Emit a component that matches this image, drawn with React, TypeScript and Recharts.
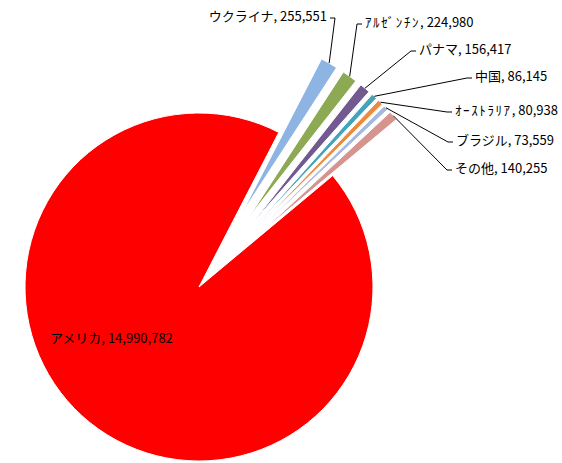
import { PieChart, Pie, Cell } from "recharts";

const countries = ["ウクライナ", "ｱﾙｾﾞﾝﾁﾝ", "パナマ", "中国", "ｵｰｽﾄﾗﾘｱ", "ブラジル", "その他", "アメリカ"];
const tonnes = [255551, 224980, 156417, 86145, 80938, 73559, 140255, 14990782];
const colors = ["#8EB4E3", "#8DA953", "#725990", "#45A3BA", "#EB8B3F", "#A5B9DD", "#D6948F", "#FF0000"];
const exploded = [true, true, true, true, true, true, true, false];

// where each leader line bends, and which side the text sits on (0 = plain text inside)
const labelSpots = [
  { x: 335, y: 18, side: -1 },
  { x: 357, y: 24, side: 1 },
  { x: 411, y: 51, side: 1 },
  { x: 467, y: 78, side: 1 },
  { x: 447, y: 112, side: 1 },
  { x: 448, y: 142, side: 1 },
  { x: 447, y: 170, side: 1 },
  { x: 50, y: 337, side: 0 },
];

const CX = 199;
const CY = 287;
const R = 174;
const EXPLODE = 85;
const START = 27.3; // degrees clockwise from 12 o'clock

const data = countries.map((name, i) => ({ name, value: tonnes[i] }));
const total = tonnes.reduce((a, b) => a + b, 0);

let acc = 0;
const midCompass = tonnes.map((v) => {
  const m = START + ((acc + v / 2) / total) * 360;
  acc += v;
  return m;
});

const font = "'Noto Sans CJK JP', 'Noto Sans', sans-serif";

// half-width kana come out narrower than in the original, so space them a bit
const labelText = (i: number) => {
  const name = countries[i];
  const halfWidth = /[\uFF61-\uFF9F]/.test(name);
  return (
    <>
      <tspan letterSpacing={halfWidth ? 1.6 : 0}>{name}</tspan>
      <tspan>{`, ${tonnes[i].toLocaleString("en-US")}`}</tspan>
    </>
  );
};

const renderLabel = (p: any) => {
  const i = p.index;
  const spot = labelSpots[i];
  if (spot.side === 0) {
    return (
      <text x={spot.x} y={spot.y} dominantBaseline="central" fontFamily={font} fontSize={13} fill="#000">
        {labelText(i)}
      </text>
    );
  }
  const rad = (p.midAngle * Math.PI) / 180;
  const dist = EXPLODE + p.outerRadius;
  const tx = p.cx + dist * Math.cos(rad);
  const ty = p.cy - dist * Math.sin(rad);
  const hx = spot.x + spot.side * 5;
  return (
    <g>
      <polyline
        points={`${tx},${ty} ${spot.x},${spot.y} ${hx},${spot.y}`}
        fill="none"
        stroke="#000"
        strokeWidth={1}
      />
      <text
        x={hx + spot.side * 3}
        y={spot.y - 3}
        textAnchor={spot.side > 0 ? "start" : "end"}
        dominantBaseline="central"
        fontFamily={font}
        fontSize={13}
        fill="#000"
      >
        {labelText(i)}
      </text>
    </g>
  );
};

export default function App() {
  return (
    <div style={{ position: "absolute", left: 0, top: 0, background: "#fff" }}>
      <PieChart width={562} height={463} margin={{ top: 0, right: 0, bottom: 0, left: 0 }}>
        {data.map((d, i) =>
          exploded[i] ? (
            <Pie
              key={d.name}
              data={data}
              dataKey="value"
              cx={CX + EXPLODE * Math.sin((midCompass[i] * Math.PI) / 180)}
              cy={CY - EXPLODE * Math.cos((midCompass[i] * Math.PI) / 180)}
              outerRadius={R}
              startAngle={90 - START}
              endAngle={90 - START - 360}
              isAnimationActive={false}
              label={false}
              labelLine={false}
            >
              {data.map((_, j) => (
                <Cell
                  key={j}
                  fill={j === i ? colors[j] : "none"}
                  stroke={j === i ? "#fff" : "none"}
                  strokeWidth={1}
                />
              ))}
            </Pie>
          ) : null
        )}
        <Pie
          data={data}
          dataKey="value"
          cx={CX}
          cy={CY}
          outerRadius={R}
          startAngle={90 - START}
          endAngle={90 - START - 360}
          isAnimationActive={false}
          label={renderLabel}
          labelLine={false}
        >
          {data.map((_, j) => (
            <Cell
              key={j}
              fill={exploded[j] ? "none" : colors[j]}
              stroke={exploded[j] ? "none" : "#fff"}
              strokeWidth={1}
            />
          ))}
        </Pie>
      </PieChart>
    </div>
  );
}
